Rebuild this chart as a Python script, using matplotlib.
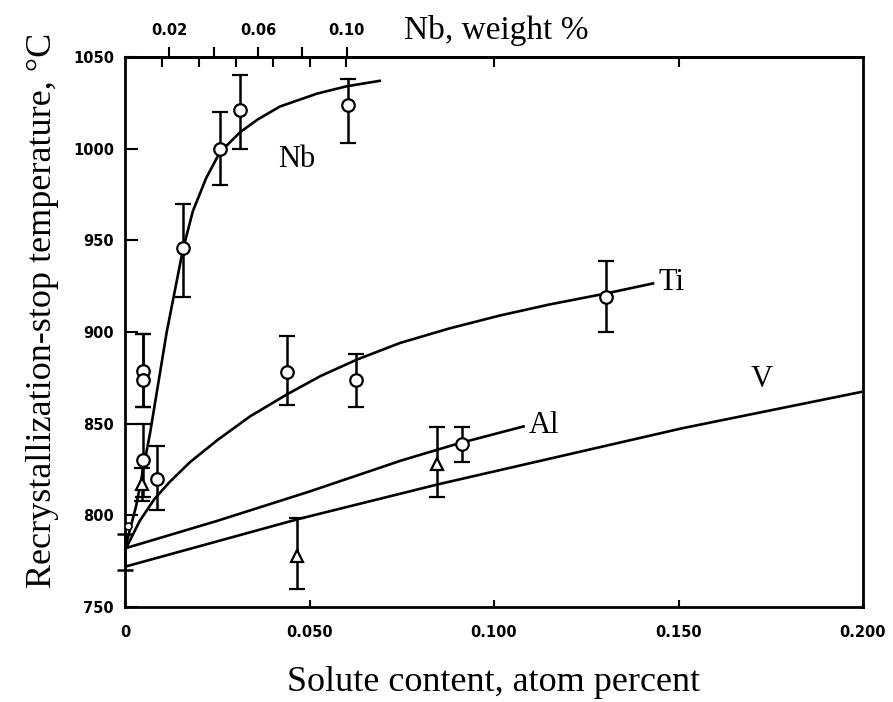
import numpy as np
import matplotlib.pyplot as plt

# fitted curves (atom %, deg C)
nb_curve_x = [0.000, 0.003, 0.0068, 0.0113, 0.0157, 0.0184, 0.0220, 0.0257, 0.0312, 0.0360, 0.0420, 0.0520, 0.0600, 0.0690]
nb_curve_y = [782, 805, 845, 900, 945, 966, 984, 998, 1009, 1016, 1023, 1030, 1034, 1037]

ti_curve_x = [0.000, 0.004, 0.008, 0.012, 0.0176, 0.025, 0.0339, 0.0439, 0.0530, 0.0629, 0.0745, 0.088, 0.1016, 0.115, 0.1303, 0.1431]
ti_curve_y = [781, 797, 809, 818, 829, 841, 854, 866, 876, 885, 894, 902, 909, 915, 921, 926.5]

al_curve_x = [0.000, 0.025, 0.050, 0.075, 0.090, 0.108]
al_curve_y = [782, 797, 813, 830, 839, 848.5]

v_curve_x = [0.000, 0.047, 0.085, 0.151, 0.200]
v_curve_y = [772, 798, 817, 847.5, 867.5]

# measured points with scatter bars
circ_x = [0.0049, 0.0049, 0.0049, 0.0087, 0.0157, 0.0257, 0.0312, 0.0604, 0.0439, 0.0626, 0.1303, 0.0913]
circ_y = [879, 874, 830, 820, 946, 1000, 1021, 1024, 878, 874, 919, 839]
circ_lo = [859, 859, 810, 803, 919, 980, 1000, 1003, 860, 859, 900, 829]
circ_hi = [899, 899, 850, 838, 970, 1020, 1040, 1038, 898, 888, 939, 848]

tri_x = [0.0466, 0.0845, 0.0045]
tri_y = [778, 828, 817]
tri_lo = [760, 810, 808]
tri_hi = [798.5, 848, 826]

small_x = [0.0008]
small_y = [794]

zero_bar_x = [0.0]
zero_bar_y = [780]
zero_bar_lo = [770]
zero_bar_hi = [790]

labels = ["Nb", "Ti", "Al", "V"]
label_x = [0.0415, 0.1445, 0.1095, 0.1695]
label_y = [994, 927, 849, 874]

x_ticks = [0, 0.05, 0.10, 0.15, 0.20]
x_ticklabels = ["0", "0.050", "0.100", "0.150", "0.200"]
y_ticks = [750, 800, 850, 900, 950, 1000, 1050]
top_wt_ticks = [0.02, 0.04, 0.06, 0.08, 0.10]
top_wt_labels = ["0.02", "", "0.06", "", "0.10"]
top_in_ticks = [0.01, 0.02, 0.03, 0.04, 0.05, 0.06, 0.10, 0.15]

# Nb: 92.906, Fe: 55.845
wt_per_at = 92.906 / 55.845

serif = "Liberation Serif"
tickfont = dict(family="DejaVu Sans", weight="bold", size=10.5)

fig = plt.figure(figsize=(8.93, 7.02), dpi=100)
ax = fig.add_axes([0.140, 0.1353, 0.8264, 0.7835])

lw = 1.9
ax.plot(nb_curve_x, nb_curve_y, color="black", lw=lw)
ax.plot(ti_curve_x, ti_curve_y, color="black", lw=lw)
ax.plot(al_curve_x, al_curve_y, color="black", lw=lw)
ax.plot(v_curve_x, v_curve_y, color="black", lw=lw)

circ_y = np.array(circ_y)
ax.errorbar(circ_x, circ_y, yerr=[circ_y - np.array(circ_lo), np.array(circ_hi) - circ_y],
            fmt="o", ms=9, mfc="white", mec="black", mew=1.6, ecolor="black",
            elinewidth=1.8, capsize=5.5, capthick=1.8, zorder=3)
tri_y = np.array(tri_y)
ax.errorbar(tri_x, tri_y, yerr=[tri_y - np.array(tri_lo), np.array(tri_hi) - tri_y],
            fmt="^", ms=9, mfc="white", mec="black", mew=1.6, ecolor="black",
            elinewidth=1.8, capsize=5.5, capthick=1.8, zorder=3)
zero_bar_y = np.array(zero_bar_y)
ax.errorbar(zero_bar_x, zero_bar_y, yerr=[zero_bar_y - np.array(zero_bar_lo), np.array(zero_bar_hi) - zero_bar_y],
            fmt="none", ecolor="black", elinewidth=1.8, capsize=5.5, capthick=1.8, zorder=3, clip_on=False)
ax.plot(small_x, small_y, "o", ms=5, mfc="white", mec="black", mew=1.2, zorder=4)

for t, x, y in zip(labels, label_x, label_y):
    ax.text(x, y, t, family=serif, fontsize=22, va="center", ha="left")

ax.set_xlim(0, 0.2)
ax.set_ylim(750, 1050)
ax.set_xticks(x_ticks)
ax.set_xticklabels(x_ticklabels, **tickfont)
ax.set_yticks(y_ticks)
ax.set_yticklabels([str(v) for v in y_ticks], **tickfont)
ax.tick_params(axis="x", direction="in", length=5, width=1.5, pad=13)
ax.tick_params(axis="y", direction="in", length=9, width=1.5, pad=8)
for s in ax.spines.values():
    s.set_linewidth(2)

ax.set_xlabel("Solute content, atom percent", family=serif, fontsize=26)
ax.xaxis.set_label_coords(0.5, -0.108)
ax.set_ylabel("Recrystallization-stop temperature, \u00b0C", family=serif, fontsize=26)
ax.yaxis.set_label_coords(-0.09, 0.54)

# top axis: Nb weight %
top = ax.secondary_xaxis("top", functions=(lambda a: a * wt_per_at, lambda w: w / wt_per_at))
top.set_xticks(top_wt_ticks)
top.set_xticklabels(top_wt_labels, **tickfont)
top.tick_params(direction="out", length=7, width=1.5, pad=7)
top.spines["top"].set_linewidth(2)
fig.text(0.556, 1 - 30 / 702, "Nb, weight %", family=serif, fontsize=24, ha="center", va="center")

top2 = ax.secondary_xaxis("top")
top2.set_xticks(top_in_ticks)
top2.set_xticklabels([])
top2.tick_params(direction="in", length=7, width=1.5)
top2.spines["top"].set_linewidth(2)

fig.savefig("out.png", dpi=100)
